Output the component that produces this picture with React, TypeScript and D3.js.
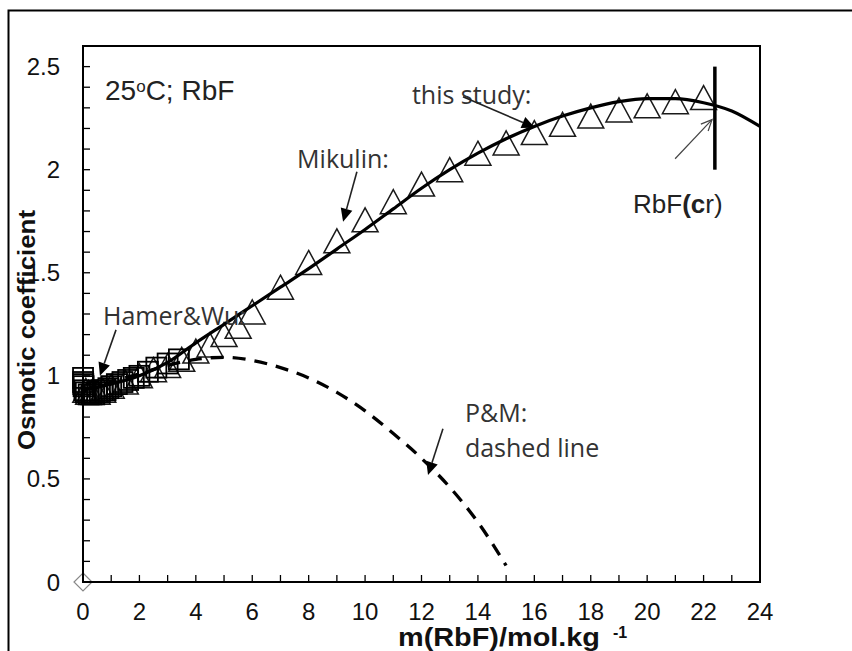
import React from 'react';
import * as d3 from 'd3';

// ---------- data ----------
const xTickValues = [0, 2, 4, 6, 8, 10, 12, 14, 16, 18, 20, 22, 24];
const yTickValues = [0, 0.5, 1, 1.5, 2, 2.5];

// Mikulin fit (solid line)
const lineM = [0, 1, 2, 3, 4, 5, 6, 7, 8, 9, 10, 11, 12, 13, 14, 15, 16, 17, 18, 19, 20, 21, 22, 23, 24];
const lineV = [0.93, 0.96, 1.0, 1.065, 1.16, 1.25, 1.34, 1.43, 1.52, 1.615, 1.71, 1.81, 1.91, 2.0, 2.08, 2.15, 2.21, 2.26, 2.3, 2.33, 2.345, 2.345, 2.325, 2.285, 2.21];

// P&M (dashed line)
const pmM = [0, 1, 2, 3, 4, 5, 6, 7, 8, 9, 10, 11, 12, 13, 14, 15];
const pmV = [0.93, 0.97, 1.01, 1.05, 1.08, 1.09, 1.075, 1.04, 0.99, 0.92, 0.83, 0.72, 0.6, 0.46, 0.29, 0.08];

// this study (triangles)
const studyM = [0.1, 0.2, 0.3, 0.5, 0.7, 1.0, 1.5, 2.0, 2.5, 3.0, 3.5, 4.0, 4.5, 5.0, 5.5, 6, 7, 8, 9, 10, 11, 12, 13, 14, 15, 16, 17, 18, 19, 20, 21, 22];
const studyV = [0.93, 0.92, 0.92, 0.92, 0.93, 0.95, 0.97, 1.0, 1.03, 1.05, 1.08, 1.12, 1.15, 1.2, 1.24, 1.31, 1.43, 1.55, 1.655, 1.757, 1.845, 1.93, 2.0, 2.08, 2.13, 2.18, 2.22, 2.26, 2.29, 2.31, 2.33, 2.35];

// Hamer & Wu (squares)
const hwM = [0.001, 0.005, 0.01, 0.02, 0.05, 0.1, 0.2, 0.3, 0.4, 0.5, 0.6, 0.7, 0.8, 0.9, 1.0, 1.2, 1.4, 1.6, 1.8, 2.0, 2.3, 2.6, 3.0, 3.4];
const hwV = [0.99, 0.97, 0.96, 0.95, 0.93, 0.92, 0.91, 0.91, 0.91, 0.92, 0.92, 0.93, 0.93, 0.94, 0.95, 0.96, 0.97, 0.98, 0.99, 1.0, 1.02, 1.04, 1.06, 1.08];

// solubility marker RbF(cr)
const crM = 22.4;
const crV = [2.0, 2.5];

// ---------- layout ----------
const W = 852;
const H = 651;
const plot = { left: 83, right: 760, top: 46, bottom: 582 };

const x = d3.scaleLinear().domain([0, 24]).range([plot.left, plot.right]);
const y = d3.scaleLinear().domain([0, 2.6]).range([plot.bottom, plot.top]);

const fmt = (v: number) => String(v);

function Arrow({ m1, v1, m2, v2, open = false, sw = 1.6, color = '#222' }: any) {
  const x1 = x(m1), y1 = y(v1), x2 = x(m2), y2 = y(v2);
  const ang = Math.atan2(y2 - y1, x2 - x1);
  const L = open ? 11 : 13;
  const hw = open ? 5 : 6;
  const bx = x2 - L * Math.cos(ang), by = y2 - L * Math.sin(ang);
  const px = -Math.sin(ang) * hw, py = Math.cos(ang) * hw;
  if (open) {
    return (
      <g stroke={color} strokeWidth={sw} fill="none">
        <line x1={x1} y1={y1} x2={x2} y2={y2} />
        <polyline points={`${bx + px},${by + py} ${x2},${y2} ${bx - px},${by - py}`} />
      </g>
    );
  }
  return (
    <g>
      <line x1={x1} y1={y1} x2={bx} y2={by} stroke={color} strokeWidth={sw} />
      <polygon points={`${x2},${y2} ${bx + px},${by + py} ${bx - px},${by - py}`} fill="#000" />
    </g>
  );
}

export default function App() {
  const lineGen = d3.line<number>().x((_, i) => x(lineM[i])).y((d) => y(d)).curve(d3.curveMonotoneX);
  const pmGen = d3.line<number>().x((_, i) => x(pmM[i])).y((d) => y(d)).curve(d3.curveMonotoneX);

  const xMinor = d3.range(0, 25, 1);
  const yMinor = d3.range(0, 27, 1).map((d) => d / 10);

  const arial = '"Liberation Sans", Arial, sans-serif';
  const calibri = '"Open Sans", sans-serif';

  return (
    <svg width={W} height={H} style={{ position: 'absolute', left: 0, top: 0, background: '#fff' }}>
      {/* outer frame */}
      <rect x={8.5} y={10.5} width={900} height={700} fill="none" stroke="#000" strokeWidth={2} />

      {/* markers: triangles (this study) */}
      <g fill="none" stroke="#1a1a1a" strokeWidth={1.5}>
        {studyM.map((m, i) => {
          const cx = x(m), cy = y(studyV[i]);
          return <path key={i} d={`M${cx},${cy - 12}L${cx + 13},${cy + 12}L${cx - 13},${cy + 12}Z`} />;
        })}
      </g>
      {/* squares (Hamer & Wu) */}
      <g fill="none" stroke="#000" strokeWidth={1.8}>
        {hwM.map((m, i) => (
          <rect key={i} x={x(m) - 10} y={y(hwV[i]) - 10} width={20} height={20} />
        ))}
      </g>

      {/* P&M dashed line */}
      <path d={pmGen(pmV) || ''} fill="none" stroke="#000" strokeWidth={3.3} strokeDasharray="13 9" />
      {/* Mikulin solid line */}
      <path d={lineGen(lineV) || ''} fill="none" stroke="#000" strokeWidth={3.2} />

      {/* diamond at origin */}
      <path d={`M${x(0)},${y(0) - 9}L${x(0) + 9},${y(0)}L${x(0)},${y(0) + 9}L${x(0) - 9},${y(0)}Z`} fill="none" stroke="#888" strokeWidth={1.2} />

      {/* plot border */}
      <rect x={plot.left} y={plot.top} width={plot.right - plot.left} height={plot.bottom - plot.top} fill="none" stroke="#000" strokeWidth={2} />

      {/* ticks */}
      <g stroke="#000" strokeWidth={1.3}>
        {xMinor.map((t) => (
          <line key={'xt' + t} x1={x(t)} x2={x(t)} y1={plot.bottom} y2={plot.bottom - 7} />
        ))}
        {yMinor.map((t) => (
          <line key={'yt' + t} x1={plot.left} x2={plot.left + 7} y1={y(t)} y2={y(t)} />
        ))}
      </g>

      {/* tick labels */}
      <g fontFamily={arial} fontSize={24} fill="#111">
        {xTickValues.map((t) => (
          <text key={'xl' + t} x={x(t)} y={620} textAnchor="middle">{fmt(t)}</text>
        ))}
        {yTickValues.map((t) => (
          <text key={'yl' + t} x={60} y={y(t) + 8.5} textAnchor="end">{fmt(t)}</text>
        ))}
      </g>

      {/* axis titles */}
      <text x={398} y={646} fontFamily={arial} fontWeight="bold" fontSize={25} textLength={202} lengthAdjust="spacingAndGlyphs" fill="#111">m(RbF)/mol.kg</text>
      <text x={613} y={638} fontFamily={arial} fontWeight="bold" fontSize={16} fill="#111">-1</text>
      <text transform={`translate(35,330) rotate(-90)`} textAnchor="middle" fontFamily={arial} fontWeight="bold" fontSize={23} textLength={240} lengthAdjust="spacingAndGlyphs" fill="#111">Osmotic coefficient</text>

      {/* RbF(cr) vertical marker */}
      <line x1={x(crM)} x2={x(crM)} y1={y(crV[0])} y2={y(crV[1])} stroke="#000" strokeWidth={3.5} />

      {/* annotations */}
      <text x={x(0.78)} y={y(2.34)} fontFamily={arial} fontSize={28} fill="#222">
        25<tspan fontSize={17} dy={-8}>o</tspan><tspan dy={8}>C; RbF</tspan>
      </text>
      <g fontFamily={calibri} fontSize={25} fill="#333">
        <text x={x(11.66)} y={y(2.32)}>this study:</text>
        <text x={x(7.59)} y={y(2.01)}>Mikulin:</text>
        <text x={x(0.71)} y={y(1.248)}>Hamer&amp;Wu:</text>
        <text x={x(13.54)} y={y(0.777)}>P&amp;M:</text>
        <text x={x(13.54)} y={y(0.607)}>dashed line</text>
      </g>
      <text x={x(19.5)} y={y(1.79)} fontFamily={arial} fontSize={26} fill="#222">
        RbF<tspan fontWeight="bold">(c</tspan>r)
      </text>

      <Arrow m1={13.47} v1={2.354} m2={16.02} v2={2.204} />
      <Arrow m1={9.71} v1={1.99} m2={9.22} v2={1.748} />
      <Arrow m1={1.17} v1={1.223} m2={0.6} v2={1.0} />
      <Arrow m1={12.76} v1={0.743} m2={12.23} v2={0.519} />
      <Arrow m1={20.99} v1={2.053} m2={22.3} v2={2.243} open sw={1.2} color="#444" />
    </svg>
  );
}
